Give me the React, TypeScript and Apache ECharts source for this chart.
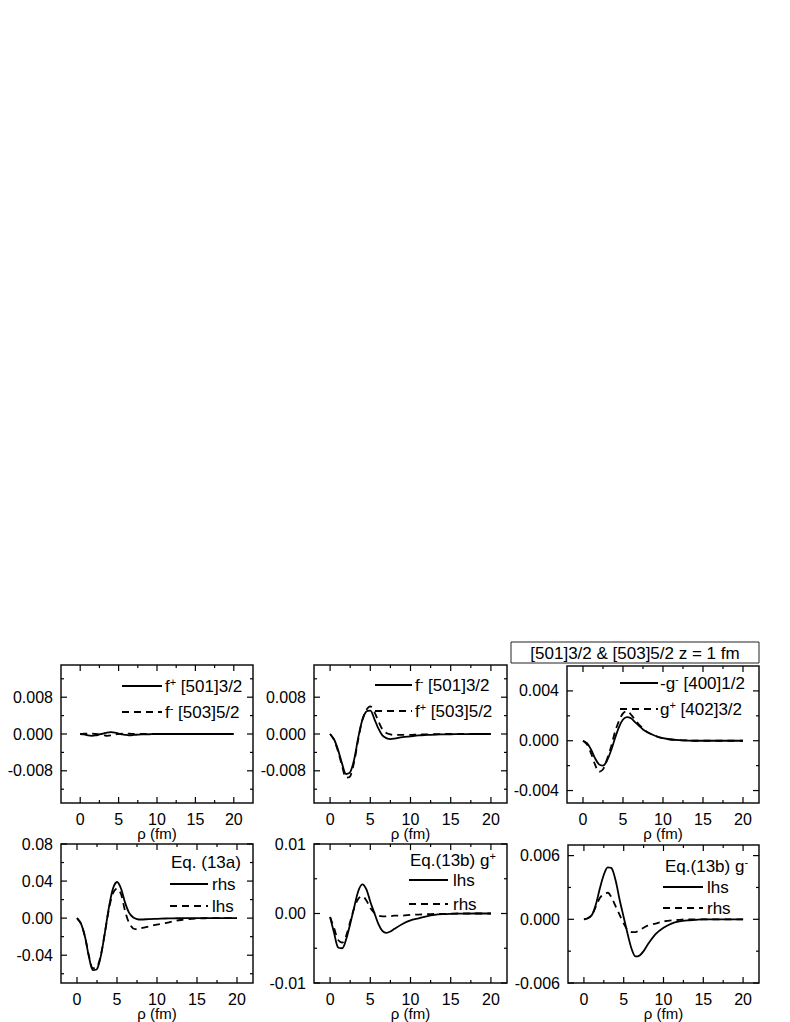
import React, { useEffect, useRef } from "react";
import * as echarts from "echarts";

// ---------- data ----------
const RHO = [0, 0.5, 1, 1.5, 2, 2.5, 3, 3.5, 4, 4.5, 5, 5.5, 6, 6.5, 7, 7.5, 8, 9, 10, 11, 12, 13, 14, 15, 16, 18, 20];

const P1_F_PLUS_501 = [0, -0.0001, -0.0003, -0.0004, -0.0003, -0.0001, 0.0001, 0.0003, 0.0004, 0.0003, 0.0001, -0.0001, -0.0002, -0.0003, -0.0002, -0.00015, -0.0001, -0.00005, 0, 0, 0, 0, 0, 0, 0, 0, 0];
const P1_F_MINUS_503 = [0, 0.00005, 0.0001, 0.0001, 0, -0.0001, -0.0002, -0.0004, -0.0003, -0.0001, 0, 0.0001, 0.0001, 0.00005, 0, 0, 0, 0, 0, 0, 0, 0, 0, 0, 0, 0, 0];

const P2_F_MINUS_501 = [0, -0.0012, -0.0035, -0.0065, -0.0087, -0.0083, -0.0055, -0.0008, 0.003, 0.0049, 0.0051, 0.0033, 0.0012, -0.0003, -0.0009, -0.0011, -0.001, -0.0007, -0.0005, -0.0003, -0.0002, -0.00012, -0.00008, -0.00005, -0.00003, 0, 0];
const P2_F_PLUS_503 = [0, -0.0013, -0.0038, -0.007, -0.0095, -0.0092, -0.006, -0.0012, 0.003, 0.0052, 0.006, 0.0048, 0.0028, 0.001, 0.0002, -0.0001, -0.0002, -0.0002, -0.0002, -0.0001, -0.0001, -0.00005, 0, 0, 0, 0, 0];

const P3_G_MINUS_400 = [0, -0.0002, -0.0007, -0.0014, -0.0019, -0.002, -0.0016, -0.0008, 0.0002, 0.0011, 0.0017, 0.0019, 0.0018, 0.0015, 0.0012, 0.0009, 0.0007, 0.0004, 0.0002, 0.0001, 0.00005, 0.00002, 0, 0, 0, 0, 0];
const P3_G_PLUS_402 = [0, -0.0003, -0.001, -0.0019, -0.0025, -0.0023, -0.0015, -0.0005, 0.0007, 0.0016, 0.0022, 0.0024, 0.0021, 0.0017, 0.0013, 0.001, 0.0007, 0.0004, 0.0002, 0.0001, 0.00005, 0.00002, 0, 0, 0, 0, 0];

const P4_RHS = [0, -0.006, -0.02, -0.042, -0.056, -0.055, -0.04, -0.015, 0.012, 0.032, 0.039, 0.032, 0.017, 0.006, 0.001, -0.001, -0.0015, -0.001, -0.0007, -0.0004, -0.0002, -0.0001, 0, 0, 0, 0, 0];
const P4_LHS = [0, -0.006, -0.02, -0.041, -0.054, -0.053, -0.039, -0.015, 0.01, 0.027, 0.032, 0.026, 0.008, -0.005, -0.011, -0.012, -0.011, -0.009, -0.007, -0.0055, -0.0035, -0.002, -0.001, -0.0004, -0.0001, 0, 0];

const P5_LHS = [-0.0005, -0.0028, -0.0049, -0.005, -0.0037, -0.0015, 0.0009, 0.0032, 0.0042, 0.0035, 0.0017, 0.0001, -0.0015, -0.0025, -0.0028, -0.0026, -0.0022, -0.0015, -0.001, -0.0007, -0.0004, -0.0002, -0.0001, -0.00005, -0.00002, 0, 0];
const P5_RHS = [-0.0005, -0.0021, -0.0038, -0.0042, -0.0032, -0.0012, 0.0008, 0.0021, 0.0025, 0.0019, 0.0008, 0.0001, -0.0003, -0.0004, -0.0004, -0.0004, -0.0003, -0.0003, -0.0002, -0.00015, -0.0001, -0.00007, -0.00005, -0.00003, 0, 0, 0];

const P6_LHS = [0, 0.0001, 0.0004, 0.0014, 0.0029, 0.0042, 0.0049, 0.0048, 0.0036, 0.0018, 0.0002, -0.0014, -0.0028, -0.0035, -0.0034, -0.003, -0.0024, -0.0014, -0.0008, -0.0004, -0.0002, -0.0001, -0.00005, 0, 0, 0, 0];
const P6_RHS = [0, 0.0001, 0.0004, 0.0012, 0.002, 0.0024, 0.0025, 0.002, 0.0012, 0.0004, -0.0004, -0.001, -0.0012, -0.0012, -0.001, -0.0008, -0.0006, -0.0004, -0.0002, -0.0001, -0.00005, 0, 0, 0, 0, 0, 0];

// tick values
const X_MAJOR = [0, 5, 10, 15, 20];
const X_MINOR = [2.5, 7.5, 12.5, 17.5];
const Y_MAJOR = [
  [-0.008, 0, 0.008],
  [-0.008, 0, 0.008],
  [-0.004, 0, 0.004],
  [-0.04, 0, 0.04, 0.08],
  [-0.01, 0, 0.01],
  [-0.006, 0, 0.006],
];
const Y_MINOR = [
  [-0.012, -0.004, 0.004, 0.012],
  [-0.012, -0.004, 0.004, 0.012],
  [-0.002, 0.002],
  [-0.06, -0.02, 0.02, 0.06],
  [-0.005, 0.005],
  [-0.003, 0.003],
];
const Y_DECIMALS = [3, 3, 3, 2, 2, 3];
const Y_RANGE = [
  [-0.015, 0.015],
  [-0.015, 0.015],
  [-0.005, 0.006],
  [-0.07, 0.08],
  [-0.01, 0.01],
  [-0.006, 0.007],
];
const X_RANGE = [
  [-2.5, 22.5],
  [-2, 22],
  [-2, 22],
  [-2, 22],
  [-2, 22],
  [-2, 22],
];

// legend labels (rich text) for each panel: [solid, dashed]
const LEGEND_LABELS = [
  ["f{sup|+} [501]3/2", "f{sup|-} [503]5/2"],
  ["f{sup|-} [501]3/2", "f{sup|+} [503]5/2"],
  ["-g{sup|-} [400]1/2", "g{sup|+} [402]3/2"],
  ["rhs", "lhs"],
  ["lhs", "rhs"],
  ["lhs", "rhs"],
];
const SOLID_VALUES = [P1_F_PLUS_501, P2_F_MINUS_501, P3_G_MINUS_400, P4_RHS, P5_LHS, P6_LHS];
const DASHED_VALUES = [P1_F_MINUS_503, P2_F_PLUS_503, P3_G_PLUS_402, P4_LHS, P5_RHS, P6_RHS];
const PANEL_TITLES = ["", "", "", "Eq. (13a)", "Eq.(13b) g{sup|+}", "Eq.(13b) g{sup|-}"];
const MAIN_TITLE = "[501]3/2 & [503]5/2 z = 1 fm";
const X_NAME = "ρ (fm)";

// ---------- layout ----------
const FONT = '"Liberation Sans", Arial, Helvetica, sans-serif';
const GRIDS = [
  { left: 61, top: 665, width: 192, height: 138 },
  { left: 314, top: 665, width: 193, height: 138 },
  { left: 567, top: 666, width: 192, height: 137 },
  { left: 61, top: 844, width: 192, height: 139 },
  { left: 314, top: 844, width: 193, height: 139 },
  { left: 568, top: 845, width: 191, height: 138 },
];
// legend key layout: sample line x-range, text x, row centre y's
const LEGEND_POS = [
  { x1: 122, x2: 162, tx: 165, rows: [686, 712] },
  { x1: 375, x2: 412, tx: 415, rows: [685, 711] },
  { x1: 620, x2: 658, tx: 660, rows: [683, 709] },
  { x1: 170, x2: 208, tx: 212, rows: [884, 906] },
  { x1: 409, x2: 448, tx: 453, rows: [880, 904] },
  { x1: 663, x2: 703, tx: 707, rows: [887, 908] },
];
const TITLE_POS = [null, null, null, { x: 171, y: 862 }, { x: 410, y: 860 }, { x: 665, y: 866 }];
const MAJOR_LEN = 6;
const MINOR_LEN = 3;
const DASH = [7, 5];

const RICH = {
  sup: { fontSize: 11, lineHeight: 11, verticalAlign: "top", fontFamily: FONT, fill: "#000", color: "#000" },
};

// tick codes: 0/1 x major bottom/top, 2/3 x minor bottom/top,
//             4/5 y major left/right, 6/7 y minor left/right
function tickRenderItem(params: any, api: any) {
  const cs = params.coordSys;
  const c = api.value(2);
  const p = api.coord([api.value(0), api.value(1)]);
  const len = c === 0 || c === 1 || c === 4 || c === 5 ? MAJOR_LEN : MINOR_LEN;
  const style = { stroke: "#000", lineWidth: 1.2 };
  const yb = cs.y + cs.height;
  const yt = cs.y;
  const xl = cs.x;
  const xr = cs.x + cs.width;
  let shape;
  if (c === 0 || c === 2) shape = { x1: p[0], y1: yb, x2: p[0], y2: yb - len };
  else if (c === 1 || c === 3) shape = { x1: p[0], y1: yt, x2: p[0], y2: yt + len };
  else if (c === 4 || c === 6) shape = { x1: xl, y1: p[1], x2: xl + len, y2: p[1] };
  else shape = { x1: xr, y1: p[1], x2: xr - len, y2: p[1] };
  return { type: "line", shape, style };
}

function textEl(x: number, y: number, text: string) {
  return {
    type: "text",
    x,
    y,
    z: 20,
    style: {
      text,
      fill: "#000",
      fontSize: 17,
      fontFamily: FONT,
      lineHeight: 20,
      align: "left",
      verticalAlign: "middle",
      rich: RICH,
    },
  };
}

function buildOption() {
  const grid: any[] = [];
  const xAxis: any[] = [];
  const yAxis: any[] = [];
  const series: any[] = [];
  const graphic: any[] = [];

  for (let i = 0; i < 6; i++) {
    grid.push({
      ...GRIDS[i],
      show: true,
      borderColor: "#111",
      borderWidth: 1.5,
      backgroundColor: "transparent",
      containLabel: false,
      outerBoundsMode: "none",
    });
    const [xmin, xmax] = X_RANGE[i];
    const [ymin, ymax] = Y_RANGE[i];
    const dec = Y_DECIMALS[i];
    xAxis.push({
      type: "value",
      gridIndex: i,
      min: xmin,
      max: xmax,
      position: "bottom",
      axisLine: { show: false, onZero: false },
      splitLine: { show: false },
      axisTick: { show: false },
      axisLabel: {
        show: true,
        customValues: X_MAJOR,
        fontSize: 16,
        color: "#000",
        fontFamily: FONT,
        margin: 8,
        formatter: (v: number) => String(v),
      },
      name: X_NAME,
      nameLocation: "middle",
      nameGap: 23,
      nameMoveOverlap: false,
      nameTextStyle: { fontSize: 15, color: "#000", fontFamily: FONT, verticalAlign: "top" },
    });
    yAxis.push({
      type: "value",
      gridIndex: i,
      min: ymin,
      max: ymax,
      position: "left",
      axisLine: { show: false, onZero: false },
      splitLine: { show: false },
      axisTick: { show: false },
      axisLabel: {
        show: true,
        customValues: Y_MAJOR[i],
        fontSize: 16,
        color: "#000",
        fontFamily: FONT,
        margin: 8,
        formatter: (v: number) => (Math.abs(v) < 1e-12 ? 0 : v).toFixed(dec),
      },
    });

    const tickData: number[][] = [];
    X_MAJOR.forEach((v) => { tickData.push([v, 0, 0], [v, 0, 1]); });
    X_MINOR.forEach((v) => { tickData.push([v, 0, 2], [v, 0, 3]); });
    Y_MAJOR[i].forEach((v) => { tickData.push([0, v, 4], [0, v, 5]); });
    Y_MINOR[i].forEach((v) => { tickData.push([0, v, 6], [0, v, 7]); });
    series.push({
      type: "custom",
      xAxisIndex: i,
      yAxisIndex: i,
      data: tickData,
      dimensions: ["a", "b", "c"],
      encode: { x: "a", y: "b" },
      renderItem: tickRenderItem,
      clip: false,
      z: 10,
    });

    series.push({
      type: "line",
      xAxisIndex: i,
      yAxisIndex: i,
      data: RHO.map((x, k) => [x, SOLID_VALUES[i][k]]),
      smooth: 0.3,
      symbol: "none",
      showSymbol: false,
      lineStyle: { color: "#000", width: 1.8, type: "solid" },
      itemStyle: { color: "#000" },
      z: 3,
    });
    series.push({
      type: "line",
      xAxisIndex: i,
      yAxisIndex: i,
      data: RHO.map((x, k) => [x, DASHED_VALUES[i][k]]),
      smooth: 0.3,
      symbol: "none",
      showSymbol: false,
      lineStyle: { color: "#000", width: 1.8, type: DASH },
      itemStyle: { color: "#000" },
      z: 2,
    });

    // legend keys
    const L = LEGEND_POS[i];
    graphic.push({
      type: "line",
      z: 20,
      shape: { x1: L.x1, y1: L.rows[0], x2: L.x2, y2: L.rows[0] },
      style: { stroke: "#000", lineWidth: 1.8 },
    });
    graphic.push(textEl(L.tx, L.rows[0], LEGEND_LABELS[i][0]));
    graphic.push({
      type: "line",
      z: 20,
      shape: { x1: L.x1, y1: L.rows[1], x2: L.x2, y2: L.rows[1] },
      style: { stroke: "#000", lineWidth: 1.8, lineDash: DASH },
    });
    graphic.push(textEl(L.tx, L.rows[1], LEGEND_LABELS[i][1]));

    const T = TITLE_POS[i];
    if (PANEL_TITLES[i] && T) {
      graphic.push(textEl(T.x, T.y, PANEL_TITLES[i]));
    }
  }

  graphic.push({
    type: "rect",
    z: 20,
    shape: { x: 511, y: 642, width: 248, height: 21 },
    style: { fill: "#fff", stroke: "#222", lineWidth: 1 },
  });
  graphic.push({
    type: "text",
    x: 635,
    y: 653,
    z: 21,
    style: {
      text: MAIN_TITLE,
      fill: "#000",
      fontSize: 17,
      fontFamily: FONT,
      align: "center",
      verticalAlign: "middle",
    },
  });

  return {
    animation: false,
    backgroundColor: "#fff",
    textStyle: { fontFamily: FONT },
    grid,
    xAxis,
    yAxis,
    series,
    graphic,
  };
}

export default function App() {
  const ref = useRef<HTMLDivElement>(null);
  useEffect(() => {
    if (!ref.current) return;
    const chart = echarts.init(ref.current, undefined, { renderer: "svg" });
    chart.setOption(buildOption() as any);
    return () => chart.dispose();
  }, []);
  return (
    <div
      ref={ref}
      style={{ position: "absolute", left: 0, top: 0, width: 790, height: 1022, background: "#fff" }}
    />
  );
}
